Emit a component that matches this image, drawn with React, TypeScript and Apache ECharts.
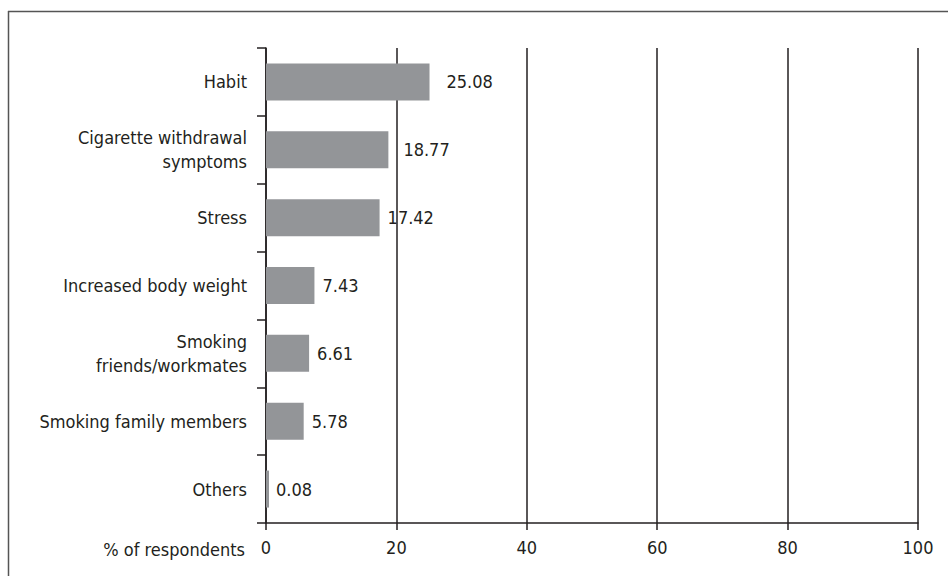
import React, { useEffect, useRef } from "react";
import * as echarts from "echarts";

// Reasons given for smoking, share of respondents (%)
const categories: string[] = [
  "Habit",
  "Cigarette withdrawal\nsymptoms",
  "Stress",
  "Increased body weight",
  "Smoking\nfriends/workmates",
  "Smoking family members",
  "Others",
];
const values: number[] = [25.08, 18.77, 17.42, 7.43, 6.61, 5.78, 0.08];
const labelGaps: number[] = [17, 15, 8, 8, 8, 8, 7];
const xTicks: number[] = [0, 20, 40, 60, 80, 100];
const xAxisTitle = "% of respondents";

const FONT = "'Liberation Sans Narrow', 'DejaVu Sans Condensed', 'Roboto', sans-serif";
const FS = 18;
const INK = "#231f20";
const BAR = "#939598";

export default function App() {
  const ref = useRef<HTMLDivElement>(null);

  useEffect(() => {
    if (!ref.current) return;
    const chart = echarts.init(ref.current, undefined, { renderer: "svg" });
    chart.setOption({
      animation: false,
      backgroundColor: "#ffffff",
      textStyle: { fontFamily: FONT, color: INK },
      grid: { left: 266, right: 30, top: 48, bottom: 53, containLabel: false },
      xAxis: {
        type: "value",
        min: xTicks[0],
        max: xTicks[xTicks.length - 1],
        interval: 20,
        axisLine: { show: true, lineStyle: { color: INK, width: 1.5 } },
        axisTick: { show: true, length: 7, lineStyle: { color: INK, width: 1.5 } },
        axisLabel: { fontFamily: FONT, fontSize: FS, color: INK, margin: 15 },
        splitLine: { show: true, lineStyle: { color: INK, width: 1.5 } },
      },
      yAxis: {
        type: "category",
        inverse: true,
        data: categories,
        axisLine: { show: true, lineStyle: { color: INK, width: 1.5 } },
        axisTick: { show: true, length: 9, lineStyle: { color: INK, width: 1.5 } },
        axisLabel: {
          fontFamily: FONT,
          fontSize: FS,
          color: INK,
          margin: 19,
          lineHeight: 24,
          align: "right",
        },
        splitLine: { show: false },
      },
      series: [
        {
          type: "bar",
          barWidth: 37,
          barMinHeight: 3,
          itemStyle: { color: BAR },
          data: values.map((v, i) => ({
            value: v,
            label: {
              show: true,
              position: "right",
              distance: labelGaps[i],
              formatter: v.toFixed(2),
              fontFamily: FONT,
              fontSize: FS,
              color: INK,
            },
          })),
        },
      ],
      graphic: [
        {
          type: "line",
          shape: { x1: 8, y1: 11.5, x2: 948, y2: 11.5 },
          style: { stroke: "#555555", lineWidth: 1.5 },
        },
        {
          type: "line",
          shape: { x1: 8.5, y1: 11, x2: 8.5, y2: 576 },
          style: { stroke: "#555555", lineWidth: 1.5 },
        },
        {
          type: "text",
          x: 245,
          y: 549,
          style: {
            text: xAxisTitle,
            font: `${FS}px ${FONT}`,
            fill: INK,
            align: "right",
            verticalAlign: "middle",
          },
        },
      ],
    });
    return () => chart.dispose();
  }, []);

  return (
    <div
      ref={ref}
      style={{ position: "absolute", left: 0, top: 0, width: 948, height: 576 }}
    />
  );
}
